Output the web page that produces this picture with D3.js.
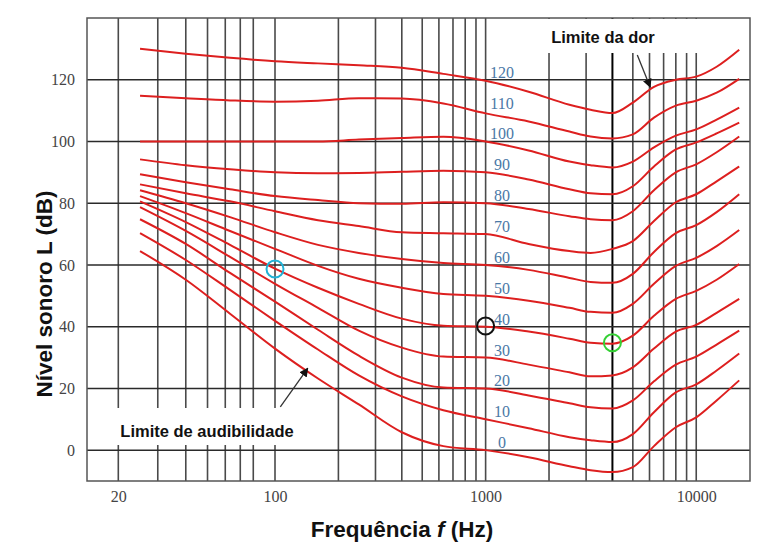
<!DOCTYPE html>
<html>
<head>
<meta charset="utf-8">
<script src="https://cdn.jsdelivr.net/npm/d3@7/dist/d3.min.js"></script>
<style>
  body { margin: 0; background: #fff; }
  svg { display: block; }
</style>
</head>
<body>
<script>
var w = 760;
var h = 543;

var freqs = [25, 40, 63, 100, 160, 250, 400, 630, 1000, 1600, 2500, 3150, 4000, 5000, 6300, 8000, 10000, 12500, 16000];

// sound level (dB) of each equal-loudness curve, one array per phon value
var phon0   = [64.5, 55.2, 44.2, 32.9, 23.2, 14.8, 5.8, 1.3, 0, -2.3, -5.2, -6.5, -7.1, -5.5, 1.3, 7.4, 10.6, 16.1, 22.6];
var phon10  = [70.3, 61.6, 51.9, 41.9, 32.6, 24.2, 17.4, 12.9, 10, 7.1, 4.2, 3.2, 2.6, 5.2, 12.3, 18.7, 21.3, 25.8, 31.3];
var phon20  = [74.8, 66.8, 57.4, 48.1, 39.0, 30.6, 23.5, 20.3, 20, 17.7, 15.2, 13.9, 13.5, 16.1, 22.3, 27.7, 30.3, 34.2, 38.7];
var phon30  = [78.7, 71.0, 62.6, 53.9, 46.1, 38.7, 33.2, 30.3, 30, 27.7, 25.2, 23.9, 24.2, 26.8, 32.9, 38.4, 40.6, 44.5, 49.0];
var phon40  = [80.6, 73.9, 66.5, 58.8, 52.6, 47.4, 42.6, 40.3, 40, 38.4, 36.1, 34.8, 34.5, 37.1, 43.5, 49.0, 51.6, 55.2, 60.3];
var phon50  = [82.3, 76.8, 71.0, 65.2, 59.7, 55.5, 52.6, 50.6, 50, 48.4, 46.1, 44.8, 44.5, 47.4, 53.9, 59.7, 62.3, 66.1, 71.3];
var phon60  = [84.2, 80.0, 75.5, 70.6, 66.5, 63.9, 61.9, 60.6, 60, 58.4, 55.8, 54.5, 54.2, 57.1, 64.2, 70.3, 72.9, 77.1, 82.9];
var phon70  = [86.1, 83.2, 80.6, 77.4, 74.5, 72.6, 70.6, 70.3, 70, 66.8, 64.5, 63.9, 65.2, 67.7, 74.2, 80.3, 82.9, 87.1, 91.9];
var phon80  = [89.4, 86.8, 84.5, 82.3, 81.0, 80.0, 79.8, 80.3, 80, 78.1, 75.8, 74.8, 74.5, 77.4, 84.2, 90.0, 92.6, 96.5, 101.6];
var phon90  = [94.2, 92.3, 91.0, 90.0, 89.7, 89.8, 90.2, 90.5, 90, 87.7, 84.5, 83.2, 82.9, 85.5, 91.9, 97.4, 99.7, 102.6, 106.1];
var phon100 = [100, 100, 100, 100, 100, 100.6, 101.1, 101.5, 100, 97.1, 93.5, 92.3, 91.6, 93.5, 98.1, 101.9, 103.9, 107.1, 111.0];
var phon110 = [114.8, 114.0, 113.3, 112.9, 113.2, 114.0, 113.9, 112.3, 109.1, 106.5, 103.2, 101.6, 101.0, 102.3, 107.7, 111.6, 113.2, 115.8, 120.3];
var phon120 = [130.0, 128.4, 127.1, 126.0, 125.3, 124.7, 123.9, 121.9, 119.7, 116.1, 111.9, 110.3, 109.2, 112.6, 117.7, 120.0, 121.0, 124.2, 129.7];

var phonLabels = [0, 10, 20, 30, 40, 50, 60, 70, 80, 90, 100, 110, 120];
var curves = [phon0, phon10, phon20, phon30, phon40, phon50, phon60, phon70, phon80, phon90, phon100, phon110, phon120];

// grid and tick labels
var gridFreqs = [20, 30, 40, 50, 60, 70, 80, 100, 200, 300, 400, 500, 600, 700, 800, 900,
                 1000, 2000, 3000, 4000, 5000, 6000, 7000, 8000, 9000, 10000];
var gridLevels = [0, 20, 40, 60, 80, 100, 120];
var xTickLabels = [20, 100, 1000, 10000];
var yTickLabels = [0, 20, 40, 60, 80, 100, 120];

// the three marked points on the 40 phon curve
var markFreqs = [100, 1000, 4000];
var markLevels = [58.7, 40.2, 34.8];

var mLeft = 87, mRight = 750, mTop = 18, mBottom = 481;

var x = d3.scaleLog()
    .domain([14.5, 100, 18000])
    .range([mLeft, 275, mRight]);

var y = d3.scaleLinear()
    .domain([-10, 140])
    .range([mBottom, mTop]);

var svg = d3.select("body")
    .append("svg")
    .attr("width", w)
    .attr("height", h);

svg.append("defs").append("marker")
    .attr("id", "head")
    .attr("viewBox", "0 0 10 10")
    .attr("refX", 9)
    .attr("refY", 5)
    .attr("markerWidth", 9)
    .attr("markerHeight", 9)
    .attr("markerUnits", "userSpaceOnUse")
    .attr("orient", "auto")
  .append("path")
    .attr("d", "M0,0 L10,5 L0,10 z")
    .attr("fill", "#111");

// vertical grid
svg.append("g").selectAll("line")
  .data(gridFreqs)
  .enter().append("line")
    .attr("x1", function(d) { return x(d); })
    .attr("x2", function(d) { return x(d); })
    .attr("y1", mTop)
    .attr("y2", mBottom)
    .attr("stroke", function(d) { return d == 4000 ? "#000" : "#4a4a4a"; })
    .attr("stroke-width", function(d) { return d == 4000 ? 2 : 1.6; });

// horizontal grid
svg.append("g").selectAll("line")
  .data(gridLevels)
  .enter().append("line")
    .attr("x1", mLeft)
    .attr("x2", mRight)
    .attr("y1", function(d) { return y(d); })
    .attr("y2", function(d) { return y(d); })
    .attr("stroke", "#2a2a2a")
    .attr("stroke-width", 1.5);

// white patches behind the two notes
svg.append("rect")
    .attr("x", x(1000) + 5).attr("y", mTop + 1)
    .attr("width", mRight - x(1000) - 6).attr("height", 34)
    .attr("fill", "#fff");
svg.append("rect")
    .attr("x", 110).attr("y", 408)
    .attr("width", 196).attr("height", 37)
    .attr("fill", "#fff");

// frame
svg.append("rect")
    .attr("x", mLeft).attr("y", mTop)
    .attr("width", mRight - mLeft).attr("height", mBottom - mTop)
    .attr("fill", "none")
    .attr("stroke", "#555")
    .attr("stroke-width", 1.5);

// curves
var line = d3.line()
    .x(function(d) { return x(d[0]); })
    .y(function(d) { return y(d[1]); })
    .curve(d3.curveMonotoneX);

svg.append("g").selectAll("path")
  .data(curves)
  .enter().append("path")
    .attr("d", function(c) { return line(c.map(function(v, i) { return [freqs[i], v]; })); })
    .attr("fill", "none")
    .attr("stroke", "#dd1f1f")
    .attr("stroke-width", 2);

// phon labels
svg.append("g").selectAll("text")
  .data(phonLabels)
  .enter().append("text")
    .attr("x", 502)
    .attr("y", function(d) { return y(d) - 2; })
    .attr("text-anchor", "middle")
    .attr("font-family", "Liberation Serif, serif")
    .attr("font-size", 16)
    .attr("fill", "#4a78a6")
    .text(function(d) { return d; });

// marked points
var markColors = ["#22b2d6", "#111", "#35d035"];
svg.append("g").selectAll("circle")
  .data(markFreqs)
  .enter().append("circle")
    .attr("cx", function(d) { return x(d); })
    .attr("cy", function(d, i) { return y(markLevels[i]); })
    .attr("r", 8.5)
    .attr("fill", "none")
    .attr("stroke", function(d, i) { return markColors[i]; })
    .attr("stroke-width", 2);

// axes tick labels
var xAxis = svg.append("g")
    .attr("transform", "translate(0," + (mBottom + 7) + ")")
    .call(d3.axisBottom(x).tickValues(xTickLabels).tickSize(0).tickFormat(function(d) { return d; }));
xAxis.select(".domain").remove();
xAxis.selectAll("text")
    .attr("font-family", "Liberation Serif, serif")
    .attr("font-size", 16)
    .attr("fill", "#444");

var yAxis = svg.append("g")
    .attr("transform", "translate(" + (mLeft - 9) + ",0)")
    .call(d3.axisLeft(y).tickValues(yTickLabels).tickSize(0));
yAxis.select(".domain").remove();
yAxis.selectAll("text")
    .attr("font-family", "Liberation Serif, serif")
    .attr("font-size", 16)
    .attr("fill", "#444");

// axis titles
var xt = svg.append("text")
    .attr("x", 402)
    .attr("y", 537)
    .attr("text-anchor", "middle")
    .attr("font-family", "Liberation Sans, Arial, sans-serif")
    .attr("font-weight", "bold")
    .attr("font-size", 22.5)
    .attr("fill", "#111");
xt.append("tspan").text("Frequência ");
xt.append("tspan").attr("font-style", "italic").text("f");
xt.append("tspan").text(" (Hz)");

svg.append("text")
    .attr("transform", "translate(52,294) rotate(-90)")
    .attr("text-anchor", "middle")
    .attr("font-family", "Liberation Sans, Arial, sans-serif")
    .attr("font-weight", "bold")
    .attr("font-size", 22.5)
    .attr("fill", "#111")
    .text("Nível sonoro L (dB)");

// notes with arrows
svg.append("text")
    .attr("x", 603)
    .attr("y", 43)
    .attr("text-anchor", "middle")
    .attr("font-family", "Liberation Sans, Arial, sans-serif")
    .attr("font-weight", "bold")
    .attr("font-size", 16.5)
    .attr("fill", "#111")
    .text("Limite da dor");

svg.append("line")
    .attr("x1", x(5250)).attr("y1", y(128))
    .attr("x2", x(6050)).attr("y2", y(117.6))
    .attr("stroke", "#333")
    .attr("stroke-width", 1.3)
    .attr("marker-end", "url(#head)");

svg.append("text")
    .attr("x", 207)
    .attr("y", 437)
    .attr("text-anchor", "middle")
    .attr("font-family", "Liberation Sans, Arial, sans-serif")
    .attr("font-weight", "bold")
    .attr("font-size", 16.5)
    .attr("fill", "#111")
    .text("Limite de audibilidade");

svg.append("line")
    .attr("x1", x(106)).attr("y1", y(14))
    .attr("x2", x(143)).attr("y2", y(26.5))
    .attr("stroke", "#333")
    .attr("stroke-width", 1.3)
    .attr("marker-end", "url(#head)");
</script>
</body>
</html>
